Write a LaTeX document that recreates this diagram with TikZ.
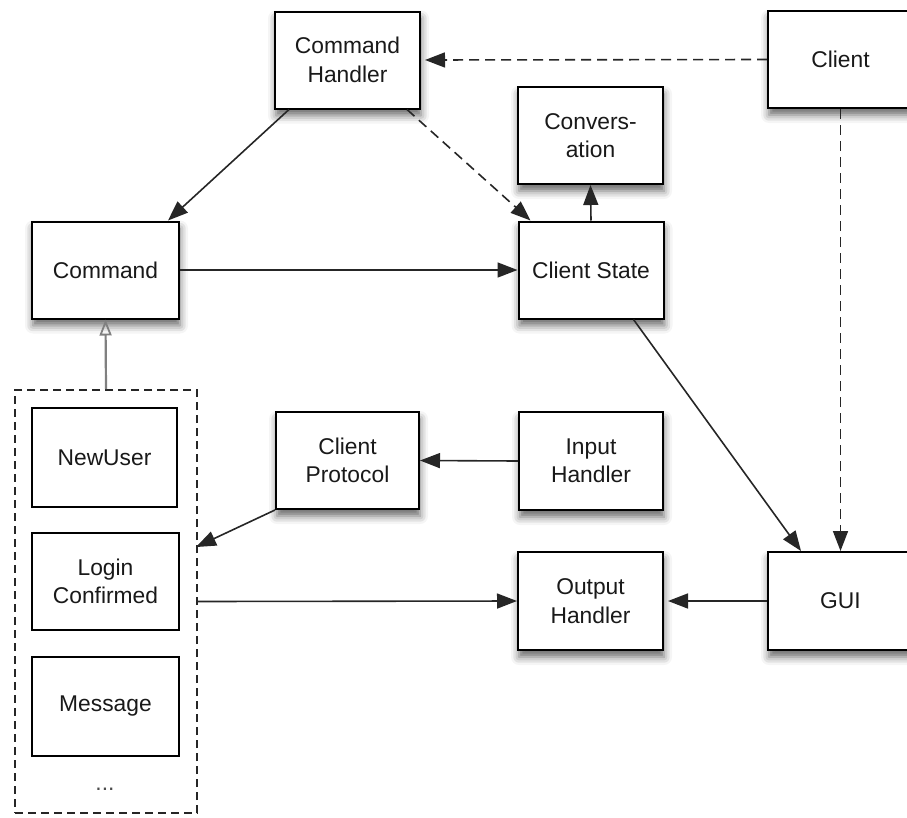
\documentclass[tikz,border=0pt]{standalone}
\usepackage{fontspec}
\setmainfont{Liberation Sans}
\usetikzlibrary{arrows.meta,calc,shadows.blur}
\tikzset{
  box/.style={draw=black, fill=white, line width=2pt, minimum width=145pt, minimum height=97pt,
    inner sep=0pt, align=center, text=black!90, font=\fontsize{22.8}{28.5}\selectfont},
  shad/.style={blur shadow={shadow xshift=1pt, shadow yshift=-7pt, shadow blur radius=8pt, shadow opacity=60}},
  conn/.style={line width=1.6pt, draw=black!85, -{Triangle[length=20pt,width=15pt]}},
  dconn/.style={conn, dash pattern=on 10pt off 6pt},
  inherit/.style={line width=2.2pt, draw=black!50, -{Triangle[open,length=16pt,width=12pt,line width=1.8pt]}},
  groupbox/.style={draw=black!85, line width=1.6pt, dash pattern=on 8pt off 5pt, fill=white,
    minimum width=182pt, minimum height=423pt, inner sep=0pt},
  dotstext/.style={font=\fontsize{22.8}{28.5}\selectfont, text=black!70}
}
\begin{document}
\begin{tikzpicture}[x=1pt,y=-1pt]
\useasboundingbox (0,0) rectangle (907,817);
% container
\node[groupbox] (grp) at (106,601.5) {};
\node[box, shad] (ch) at (347.5,60) {Command\\Handler};
\node[box, shad] (cl) at (840.5,59.5) {Client};
\node[box, shad] (conv) at (590.5,135.5) {Convers-\\ation};
\node[box, shad] (cs) at (591,270) {Client State};
\node[box, shad, minimum width=147pt] (cmd) at (105.5,270) {Command};
\node[box, minimum height=99pt] (nu) at (104.5,457.5) {NewUser};
\node[box, minimum width=147pt] (lc) at (105.5,581.5) {Login\\Confirmed};
\node[box, minimum width=147pt, minimum height=99pt] (msg) at (105.5,706.5) {Message};
\node[dotstext] (dots) at (105,789) {...};
\node[box, shad, minimum width=143pt] (cp) at (347.5,460.5) {Client\\Protocol};
\node[box, shad, minimum width=144pt, minimum height=98pt] (ih) at (591,461) {Input\\Handler};
\node[box, shad, minimum height=98pt] (oh) at (590.5,601) {Output\\Handler};
\node[box, shad, minimum height=98pt] (gui) at (840.5,601) {GUI};
% connectors
\draw[dconn, shorten >=4pt] (cl.west) -- (ch.east);
\draw[conn] ($(ch.south west)+(15,0)$) -- ($(cmd.north east)+(-12,0)$);
\draw[dconn] ($(ch.south east)+(-14,0)$) -- ($(cs.north west)+(13,0)$);
\draw[conn] (cs.north) -- (conv.south);
\draw[conn] (cmd.east) -- (cs.west);
\draw[inherit] (grp.north) -- (cmd.south);
\draw[conn] ($(cs.south east)+(-31,0)$) -- ($(gui.north west)+(34,0)$);
\draw[dconn] (cl.south) -- (gui.north);
\draw[conn] (ih.west) -- (cp.east);
\draw[conn, shorten >=-2pt] (cp.south west) -- ($(grp.north east)+(0,157)$);
\draw[conn] (grp.east) -- (oh.west);
\draw[conn, shorten >=4pt] (gui.west) -- (oh.east);
\end{tikzpicture}
\end{document}
